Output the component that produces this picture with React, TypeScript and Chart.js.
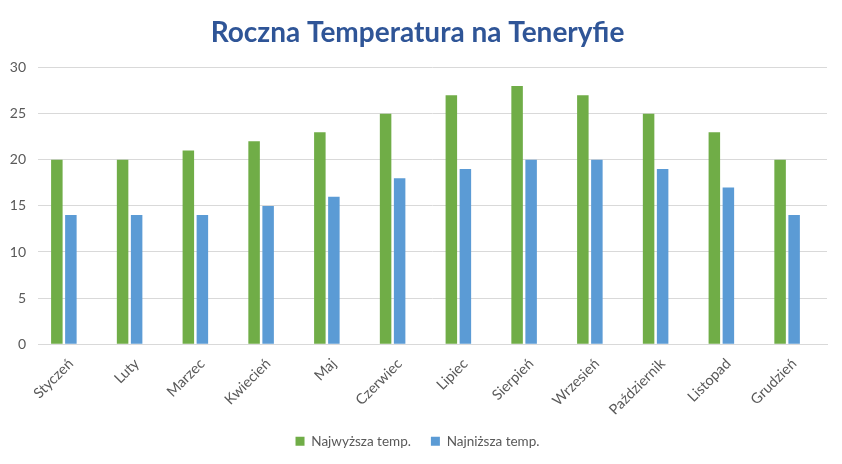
import React, { useEffect, useRef } from "react";
import { Chart, registerables } from "chart.js";

Chart.register(...registerables);

const months = [
  "Styczeń", "Luty", "Marzec", "Kwiecień", "Maj", "Czerwiec",
  "Lipiec", "Sierpień", "Wrzesień", "Październik", "Listopad", "Grudzień",
];
const highTemps = [20, 20, 21, 22, 23, 25, 27, 28, 27, 25, 23, 20];
const lowTemps = [14, 14, 14, 15, 16, 18, 19, 20, 20, 19, 17, 14];
const spacer = months.map(() => null);

const FONT = "Lato, 'Open Sans', sans-serif";
const TEXT = "#595959";
const GRID = "#d9d9d9";

export default function App() {
  const ref = useRef<HTMLCanvasElement>(null);
  useEffect(() => {
    if (!ref.current) return;
    const chart = new Chart(ref.current, {
      type: "bar",
      data: {
        labels: months,
        datasets: [
          { label: "Najwyższa temp.", data: highTemps, backgroundColor: "#70AD47", categoryPercentage: 0.64, barPercentage: 0.82 },
          { label: "Najniższa temp.", data: lowTemps, backgroundColor: "#5B9BD5", categoryPercentage: 0.64, barPercentage: 0.82 },
          { label: "", data: spacer as any, backgroundColor: "rgba(0,0,0,0)", categoryPercentage: 0.64, barPercentage: 0.82 },
        ],
      },
      options: {
        animation: false,
        responsive: true,
        maintainAspectRatio: false,
        layout: { padding: { left: 8, right: 15, top: 0, bottom: 6 } },
        plugins: {
          title: {
            display: true,
            text: "Roczna Temperatura na Teneryfie",
            color: "#2F5597",
            font: { family: FONT, size: 28, weight: "bold" },
            padding: { top: 16, bottom: 18 },
          },
          legend: {
            position: "bottom",
            labels: {
              filter: (item) => item.text !== "",
              color: TEXT,
              font: { family: FONT, size: 13.5 },
              boxWidth: 9,
              boxHeight: 9,
              padding: 20,
            },
          },
          tooltip: { enabled: false },
        },
        scales: {
          x: {
            grid: { display: false },
            border: { display: true, color: GRID },
            ticks: {
              color: TEXT,
              font: { family: FONT, size: 14.5 },
              maxRotation: 45,
              minRotation: 45,
              padding: 3,
            },
            afterFit: (scale: any) => { scale.height = scale.height - 7; },
          },
          y: {
            min: 0,
            max: 30,
            grid: { color: GRID, drawTicks: false },
            border: { display: false },
            ticks: {
              stepSize: 5,
              color: TEXT,
              font: { family: FONT, size: 14 },
              padding: 12,
            },
            afterFit: (scale: any) => { scale.width = 30; },
          },
        },
      },
    });
    return () => chart.destroy();
  }, []);
  return (
    <div style={{ position: "fixed", left: 0, top: 0, width: 842, height: 464, background: "#fff" }}>
      <canvas ref={ref} />
    </div>
  );
}
